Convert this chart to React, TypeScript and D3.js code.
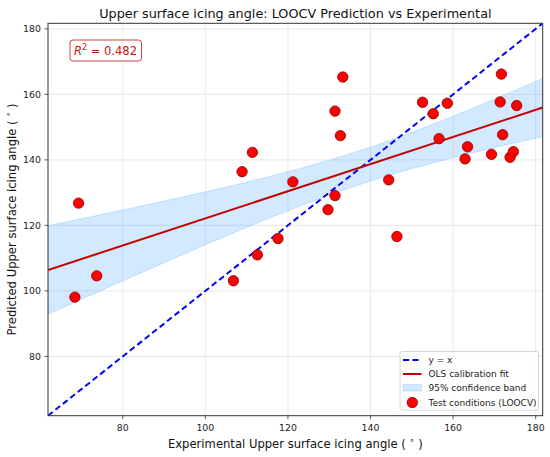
import React from "react";
import * as d3 from "d3";

const xExp = [68.4, 69.3, 73.7, 106.8, 112.6, 108.9, 111.4, 117.6, 121.2, 129.7, 131.4, 131.4, 132.7, 133.3, 144.4, 146.4, 152.6, 155.2, 156.6, 158.6, 163.5, 162.9, 169.3, 171.7, 171.4, 172.0, 173.8, 174.6, 175.4];
const yPred = [98.1, 126.8, 104.6, 103.1, 111.0, 136.4, 142.3, 116.0, 133.3, 124.8, 129.1, 154.9, 147.4, 165.3, 133.9, 116.6, 157.6, 154.1, 146.5, 157.3, 144.0, 140.3, 141.7, 166.2, 157.7, 147.7, 140.8, 142.5, 156.6];
const xTicks = [80, 100, 120, 140, 160, 180];
const yTicks = [80, 100, 120, 140, 160, 180];
const axisDomain = [61.9, 181.7];
const R2_LABEL = "0.482";
const T_CRIT = 2.052; // t(0.975, df = n - 2)

const W = 550, H = 457;
const M = { left: 48, right: 550 - 542.7, top: 23.3, bottom: 457 - 415.7 };
const FONT = "DejaVu Sans, sans-serif";

export default function App() {
  const x = d3.scaleLinear().domain(axisDomain).range([M.left, W - M.right]);
  const y = d3.scaleLinear().domain(axisDomain).range([H - M.bottom, M.top]);

  const n = xExp.length;
  const xbar = d3.mean(xExp)!;
  const ybar = d3.mean(yPred)!;
  const sxx = d3.sum(xExp, (v) => (v - xbar) ** 2);
  const sxy = d3.sum(xExp, (v, i) => (v - xbar) * (yPred[i] - ybar));
  const slope = sxy / sxx;
  const icpt = ybar - slope * xbar;
  const sse = d3.sum(xExp, (v, i) => (yPred[i] - (icpt + slope * v)) ** 2);
  const s = Math.sqrt(sse / (n - 2));
  const grid = d3.range(0, 101).map((k) => axisDomain[0] + (k / 100) * (axisDomain[1] - axisDomain[0]));
  const band = grid.map((gx) => {
    const fit = icpt + slope * gx;
    const h = T_CRIT * s * Math.sqrt(1 / n + (gx - xbar) ** 2 / sxx);
    return { gx, lo: fit - h, hi: fit + h };
  });
  const area = d3.area<any>().x((d) => x(d.gx)).y0((d) => y(d.lo)).y1((d) => y(d.hi));
  const line = d3.line<number>().x((gx) => x(gx)).y((gx) => y(icpt + slope * gx));

  const x0 = M.left, x1 = W - M.right, y0 = M.top, y1 = H - M.bottom;
  const lgX = 400, lgY = 351.5;

  return (
    <div>
      <style>{`body{margin:0}`}</style>
      <svg width={W} height={H} style={{ display: "block", background: "#fff" }} fontFamily={FONT}>
        <defs>
          <clipPath id="clip">
            <rect x={x0} y={y0} width={x1 - x0} height={y1 - y0} />
          </clipPath>
        </defs>
        {/* grid */}
        {xTicks.map((t) => (
          <line key={"gx" + t} x1={x(t)} x2={x(t)} y1={y0} y2={y1} stroke="#e3e3e3" strokeWidth={0.8} />
        ))}
        {yTicks.map((t) => (
          <line key={"gy" + t} x1={x0} x2={x1} y1={y(t)} y2={y(t)} stroke="#e3e3e3" strokeWidth={0.8} />
        ))}
        <g clipPath="url(#clip)">
          <path d={area(band)!} fill="#1e90ff" fillOpacity={0.2} stroke="#1e90ff" strokeOpacity={0.2} strokeWidth={1} />
          <line x1={x(axisDomain[0])} y1={y(axisDomain[0])} x2={x(axisDomain[1])} y2={y(axisDomain[1])} stroke="#0000ff" strokeWidth={2} strokeDasharray="6,3.5" />
          <path d={line(axisDomain)!} fill="none" stroke="#c40000" strokeWidth={2} />
          {xExp.map((v, i) => (
            <circle key={i} cx={x(v)} cy={y(yPred[i])} r={5.2} fill="#ff0000" stroke="#8b0000" strokeWidth={0.8} />
          ))}
        </g>
        {/* frame */}
        <rect x={x0} y={y0} width={x1 - x0} height={y1 - y0} fill="none" stroke="#333" strokeWidth={1} />
        {/* ticks */}
        {xTicks.map((t) => (
          <g key={"tx" + t}>
            <line x1={x(t)} x2={x(t)} y1={y1} y2={y1 + 3.5} stroke="#333" strokeWidth={0.8} />
            <text x={x(t)} y={y1 + 15} textAnchor="middle" fontSize={9.4} fill="#222">{t}</text>
          </g>
        ))}
        {yTicks.map((t) => (
          <g key={"ty" + t}>
            <line x1={x0 - 3.5} x2={x0} y1={y(t)} y2={y(t)} stroke="#333" strokeWidth={0.8} />
            <text x={x0 - 7} y={y(t) + 3.3} textAnchor="end" fontSize={9.4} fill="#222">{t}</text>
          </g>
        ))}
        {/* title */}
        <text x={(x0 + x1) / 2} y={18} textAnchor="middle" fontSize={12.8} fill="#111">
          Upper surface icing angle: LOOCV Prediction vs Experimental
        </text>
        {/* axis labels */}
        <text x={(x0 + x1) / 2} y={448} textAnchor="middle" fontSize={11.6} fill="#111">
          Experimental Upper surface icing angle ( <tspan dy={-5} fontSize={8}>∘</tspan><tspan dy={5}> )</tspan>
        </text>
        <text transform={`translate(16,${(y0 + y1) / 2}) rotate(-90)`} textAnchor="middle" fontSize={11.6} fill="#111">
          Predicted Upper surface icing angle ( <tspan dy={-5} fontSize={8}>∘</tspan><tspan dy={5}> )</tspan>
        </text>
        {/* R2 box */}
        <rect x={70} y={40} width={71.5} height={21} rx={3} fill="#fff" stroke="#d04040" strokeWidth={1} />
        <text x={74} y={54.5} fontSize={11.5} fill="#cc1111">
          <tspan fontStyle="italic">R</tspan><tspan dy={-5} fontSize={8}>2</tspan><tspan dy={5}> = {R2_LABEL}</tspan>
        </text>
        {/* legend */}
        <rect x={lgX} y={lgY} width={138.5} height={58.5} rx={2} fill="#fff" fillOpacity={0.85} stroke="#ccc" strokeWidth={0.8} />
        <line x1={lgX + 3} x2={lgX + 21.5} y1={lgY + 8.5} y2={lgY + 8.5} stroke="#0000ff" strokeWidth={2} strokeDasharray="6,3.5" />
        <text x={lgX + 28.5} y={lgY + 11.8} fontSize={9} fill="#222">y = x</text>
        <line x1={lgX + 3} x2={lgX + 21.5} y1={lgY + 22.5} y2={lgY + 22.5} stroke="#c40000" strokeWidth={2} />
        <text x={lgX + 28.5} y={lgY + 25.8} fontSize={9} fill="#222">OLS calibration fit</text>
        <rect x={lgX + 3} y={lgY + 33} width={18.5} height={6.5} fill="#1e90ff" fillOpacity={0.2} stroke="#1e90ff" strokeOpacity={0.2} />
        <text x={lgX + 28.5} y={lgY + 39.8} fontSize={9} fill="#222">95% confidence band</text>
        <circle cx={lgX + 12.3} cy={lgY + 51} r={5.2} fill="#ff0000" stroke="#8b0000" strokeWidth={0.8} />
        <text x={lgX + 28.5} y={lgY + 54.3} fontSize={9} fill="#222">Test conditions (LOOCV)</text>
      </svg>
    </div>
  );
}
